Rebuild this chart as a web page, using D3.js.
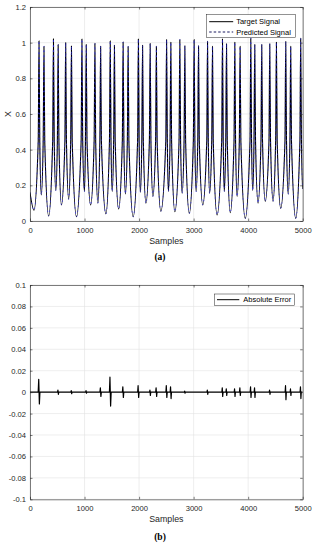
<!DOCTYPE html>
<html>
<head>
<meta charset="utf-8">
<script src="https://cdn.jsdelivr.net/npm/d3@7"></script>
<style>
    body { margin: 0; background: #fff; }
    svg { display: block; }
</style>
</head>
<body>
<div id="chart"></div>
<script>
// Data: [sample, value] vertices (valleys, spike shoulders, peaks)

const targetSignal = [
    [0, 0.16], [73, 0.06],
    [151, 0.45], [165, 1.01], [179, 0.45], [207, 0.146],
    [242, 0.45], [256, 0.979], [270, 0.45], [342, 0.028],
    [416, 0.45], [430, 1.022], [444, 0.45], [473, 0.17],
    [502, 0.45], [516, 0.989], [530, 0.45], [577, 0.09],
    [640, 0.45], [654, 1.0], [668, 0.45], [709, 0.122],
    [746, 0.45], [760, 0.981], [774, 0.45], [852, 0.024],
    [938, 0.45], [952, 1.02], [966, 0.45], [998, 0.165],
    [1017, 0.45], [1031, 0.99], [1045, 0.45], [1112, 0.09],
    [1176, 0.45], [1190, 0.996], [1204, 0.45], [1245, 0.1],
    [1281, 0.45], [1295, 0.98], [1309, 0.45], [1392, 0.04],
    [1457, 0.45], [1471, 1.01], [1485, 0.45], [1507, 0.165],
    [1534, 0.45], [1548, 0.985], [1562, 0.45], [1625, 0.067],
    [1693, 0.45], [1707, 1.004], [1721, 0.45], [1749, 0.152],
    [1785, 0.45], [1799, 0.978], [1813, 0.45], [1892, 0.024],
    [1973, 0.45], [1987, 1.02], [2001, 0.45], [2024, 0.16],
    [2050, 0.45], [2064, 0.985], [2078, 0.45], [2125, 0.1],
    [2189, 0.45], [2203, 0.995], [2217, 0.45], [2253, 0.137],
    [2303, 0.45], [2317, 0.979], [2331, 0.45], [2399, 0.055],
    [2490, 0.45], [2504, 1.017], [2518, 0.45], [2537, 0.165],
    [2568, 0.45], [2582, 1.002], [2596, 0.45], [2656, 0.052],
    [2733, 0.45], [2747, 1.017], [2761, 0.45], [2789, 0.155],
    [2825, 0.45], [2839, 0.983], [2853, 0.45], [2921, 0.043],
    [2995, 0.45], [3009, 1.017], [3023, 0.45], [3046, 0.165],
    [3076, 0.45], [3090, 0.983], [3104, 0.45], [3168, 0.09],
    [3241, 0.45], [3255, 1.007], [3269, 0.45], [3293, 0.155],
    [3332, 0.45], [3346, 0.979], [3360, 0.45], [3430, 0.034],
    [3515, 0.45], [3529, 1.02], [3543, 0.45], [3562, 0.165],
    [3589, 0.45], [3603, 0.994], [3617, 0.45], [3672, 0.047],
    [3741, 0.45], [3755, 1.002], [3769, 0.45], [3797, 0.137],
    [3838, 0.45], [3852, 0.979], [3866, 0.45], [3947, 0.015],
    [4034, 0.45], [4048, 1.024], [4062, 0.45], [4084, 0.17],
    [4107, 0.45], [4121, 0.99], [4135, 0.45], [4181, 0.1],
    [4235, 0.45], [4249, 0.99], [4263, 0.45], [4313, 0.11],
    [4382, 0.45], [4396, 0.994], [4410, 0.45], [4456, 0.11],
    [4504, 0.45], [4518, 1.002], [4532, 0.45], [4597, 0.071],
    [4675, 0.45], [4689, 1.006], [4703, 0.45], [4734, 0.15],
    [4766, 0.45], [4780, 0.979], [4794, 0.45], [4872, 0.015],
    [4949, 0.45], [4963, 1.024], [4977, 0.45], [5000, 0.18]
];

// the predicted trace sits on top of the target one everywhere in the picture
const predictedSignal = targetSignal;

const absoluteError = [
    [0, 0], [150, 0], [160, 0.012], [172, -0.011], [182, 0],
    [505, 0], [512, 0.002], [520, -0.002], [527, 0],
    [750, 0], [756, 0.0015], [764, -0.0015], [770, 0],
    [1020, 0], [1027, 0.0015], [1035, -0.001], [1042, 0],
    [1282, 0], [1290, 0.004], [1300, -0.004], [1308, 0],
    [1456, 0], [1466, 0.014], [1478, -0.013], [1488, 0],
    [1694, 0], [1702, 0.005], [1712, -0.005], [1720, 0],
    [1974, 0], [1982, 0.006], [1992, -0.005], [2000, 0],
    [2192, 0], [2199, 0.002], [2207, -0.003], [2214, 0],
    [2305, 0], [2312, 0.004], [2322, -0.004], [2329, 0],
    [2492, 0], [2499, 0.006], [2509, -0.005], [2516, 0],
    [2570, 0], [2577, 0.005], [2587, -0.006], [2594, 0],
    [2830, 0], [2836, 0.001], [2842, -0.001], [2848, 0],
    [3245, 0], [3251, 0.002], [3259, -0.002], [3265, 0],
    [3518, 0], [3525, 0.004], [3533, -0.004], [3540, 0],
    [3592, 0], [3599, 0.003], [3607, -0.003], [3614, 0],
    [3744, 0], [3751, 0.003], [3759, -0.004], [3766, 0],
    [3841, 0], [3848, 0.004], [3856, -0.003], [3863, 0],
    [4037, 0], [4044, 0.005], [4052, -0.005], [4059, 0],
    [4110, 0], [4117, 0.004], [4125, -0.005], [4132, 0],
    [4386, 0], [4392, 0.002], [4400, -0.002], [4406, 0],
    [4678, 0], [4685, 0.006], [4693, -0.007], [4700, 0],
    [4770, 0], [4776, 0.003], [4784, -0.003], [4790, 0],
    [4952, 0], [4959, 0.005], [4967, -0.006], [4974, 0],
    [5000, 0]
];

const xTicks = [0, 1000, 2000, 3000, 4000, 5000];
const xTickLabels = ['0', '1000', '2000', '3000', '4000', '5000'];
const signalTicks = [0, 0.2, 0.4, 0.6, 0.8, 1, 1.2];
const signalTickLabels = ['0', '0.2', '0.4', '0.6', '0.8', '1', '1.2'];
const errorTicks = [-0.1, -0.08, -0.06, -0.04, -0.02, 0, 0.02, 0.04, 0.06, 0.08, 0.1];
const errorTickLabels = ['-0.1', '-0.08', '-0.06', '-0.04', '-0.02', '0', '0.02', '0.04', '0.06', '0.08', '0.1'];

// Layout

const width = 316;
const height = 550;
const sans = '"Liberation Sans", Arial, Helvetica, sans-serif';
const serif = '"Liberation Serif", "Times New Roman", serif';
const axisColor = '#262626';
const gridColor = '#e3e3e3';

const svg = d3.select('#chart')
    .append('svg')
    .attr('width', width)
    .attr('height', height);

svg.append('rect').attr('width', width).attr('height', height).attr('fill', '#fff');

function drawPanel(cfg) {
    const g = svg.append('g');
    const xScale = d3.scaleLinear().domain([0, 5000]).range([cfg.left, cfg.right]);
    const yScale = d3.scaleLinear().domain(cfg.yDomain).range([cfg.bottom, cfg.top]);

    // grid
    g.append('g').selectAll('line')
        .data(xTicks)
        .join('line')
        .attr('x1', d => xScale(d)).attr('x2', d => xScale(d))
        .attr('y1', cfg.top).attr('y2', cfg.bottom)
        .attr('stroke', gridColor).attr('stroke-width', 0.6);
    g.append('g').selectAll('line')
        .data(cfg.yTicks)
        .join('line')
        .attr('x1', cfg.left).attr('x2', cfg.right)
        .attr('y1', d => yScale(d)).attr('y2', d => yScale(d))
        .attr('stroke', gridColor).attr('stroke-width', 0.6);

    // series
    const clipId = 'clip-' + cfg.name;
    svg.append('clipPath').attr('id', clipId)
        .append('rect')
        .attr('x', cfg.left).attr('y', cfg.top)
        .attr('width', cfg.right - cfg.left).attr('height', cfg.bottom - cfg.top);

    const line = d3.line()
        .x(d => xScale(d[0]))
        .y(d => yScale(d[1]))
        .curve(cfg.curve);

    const plot = g.append('g').attr('clip-path', `url(#${clipId})`);
    cfg.series.forEach(s => {
        plot.append('path')
            .datum(s.data)
            .attr('d', line)
            .attr('fill', 'none')
            .attr('stroke', s.color)
            .attr('stroke-width', s.width)
            .attr('stroke-opacity', s.opacity || 1)
            .attr('stroke-dasharray', s.dash || null)
            .attr('stroke-linejoin', 'round');
    });

    // axes (ticks point inward like MATLAB)
    const styleAxis = sel => {
        sel.select('.domain').attr('stroke', axisColor).attr('stroke-width', 0.6);
        sel.selectAll('.tick line').attr('stroke', axisColor).attr('stroke-width', 0.6);
        sel.selectAll('.tick text')
            .attr('fill', axisColor)
            .style('font-family', sans)
            .style('font-size', '7.6px');
    };

    g.append('g')
        .attr('transform', `translate(0,${cfg.bottom})`)
        .call(d3.axisBottom(xScale).tickValues(xTicks)
            .tickFormat((d, i) => xTickLabels[i])
            .tickSizeInner(-2.5).tickSizeOuter(0).tickPadding(6.5))
        .call(styleAxis);
    g.append('g')
        .attr('transform', `translate(0,${cfg.top})`)
        .call(d3.axisTop(xScale).tickValues(xTicks).tickFormat('')
            .tickSizeInner(-2.5).tickSizeOuter(0))
        .call(styleAxis);
    g.append('g')
        .attr('transform', `translate(${cfg.left},0)`)
        .call(d3.axisLeft(yScale).tickValues(cfg.yTicks)
            .tickFormat((d, i) => cfg.yLabels[i])
            .tickSizeInner(-2.5).tickSizeOuter(0).tickPadding(4))
        .call(styleAxis);
    g.append('g')
        .attr('transform', `translate(${cfg.right},0)`)
        .call(d3.axisRight(yScale).tickValues(cfg.yTicks).tickFormat('')
            .tickSizeInner(-2.5).tickSizeOuter(0))
        .call(styleAxis);

    // labels
    g.append('text')
        .attr('x', (cfg.left + cfg.right) / 2)
        .attr('y', cfg.bottom + 23)
        .attr('text-anchor', 'middle')
        .attr('fill', axisColor)
        .style('font-family', sans)
        .style('font-size', '8.8px')
        .text('Samples');

    if (cfg.yTitle) {
        g.append('text')
            .attr('transform', `translate(10.5,${(cfg.top + cfg.bottom) / 2}) rotate(-90)`)
            .attr('text-anchor', 'middle')
            .attr('fill', axisColor)
            .style('font-family', sans)
            .style('font-size', '8.8px')
            .text(cfg.yTitle);
    }

    g.append('text')
        .attr('x', 160)
        .attr('y', cfg.bottom + cfg.captionOffset)
        .attr('text-anchor', 'middle')
        .attr('fill', '#000')
        .style('font-family', serif)
        .style('font-weight', 'bold')
        .style('font-size', '9.5px')
        .text(cfg.caption);

    // legend
    const lg = cfg.legend;
    const legend = g.append('g');
    legend.append('rect')
        .attr('x', lg.x).attr('y', lg.y)
        .attr('width', lg.w).attr('height', lg.h)
        .attr('fill', '#fff')
        .attr('stroke', axisColor).attr('stroke-width', 0.5);
    lg.items.forEach((item, i) => {
        const cy = lg.y + lg.firstRow + i * lg.rowGap;
        legend.append('line')
            .attr('x1', lg.x + lg.lineStart).attr('x2', lg.x + lg.lineEnd)
            .attr('y1', cy).attr('y2', cy)
            .attr('stroke', item.color)
            .attr('stroke-width', 1)
            .attr('stroke-dasharray', item.dash || null);
        legend.append('text')
            .attr('x', lg.x + lg.textStart)
            .attr('y', cy)
            .attr('dy', '0.35em')
            .attr('fill', '#000')
            .style('font-family', sans)
            .style('font-size', '7.5px')
            .text(item.label);
    });
}

drawPanel({
    name: 'signal',
    left: 30, right: 302.7, top: 7, bottom: 221,
    yDomain: [0, 1.2],
    yTicks: signalTicks,
    yLabels: signalTickLabels,
    yTitle: 'X',
    curve: d3.curveMonotoneX,
    series: [
        { data: targetSignal, color: '#000', width: 1.1 },
        { data: predictedSignal, color: '#2a2aff', width: 0.9, dash: '1.5,3.5', opacity: 0.7 }
    ],
    caption: '(a)',
    captionOffset: 39,
    legend: {
        x: 206.7, y: 14.7, w: 88.6, h: 22.6,
        firstRow: 7, rowGap: 10.3,
        lineStart: 2.5, lineEnd: 26.5, textStart: 29.5,
        items: [
            { label: 'Target Signal', color: '#000' },
            { label: 'Predicted Signal', color: '#1a1a60', dash: '2.5,2' }
        ]
    }
});

drawPanel({
    name: 'error',
    left: 30, right: 302.7, top: 285, bottom: 499.3,
    yDomain: [-0.1, 0.1],
    yTicks: errorTicks,
    yLabels: errorTickLabels,
    curve: d3.curveLinear,
    series: [
        { data: absoluteError, color: '#000', width: 1.2 }
    ],
    caption: '(b)',
    captionOffset: 40.7,
    legend: {
        x: 214.3, y: 294, w: 80, h: 11.3,
        firstRow: 5.7, rowGap: 0,
        lineStart: 2.7, lineEnd: 25, textStart: 29,
        items: [
            { label: 'Absolute Error', color: '#000' }
        ]
    }
});
</script>
</body>
</html>
